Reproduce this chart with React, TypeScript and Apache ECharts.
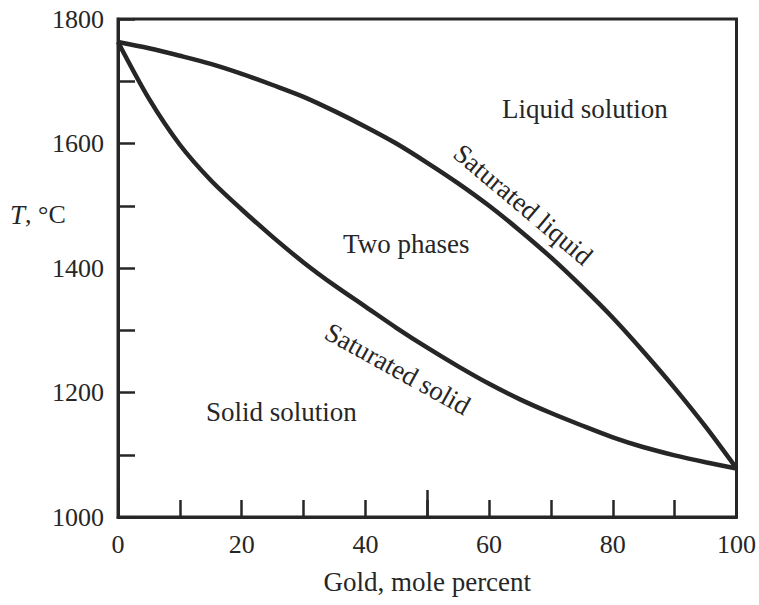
import React, { useEffect, useRef } from "react";
import * as echarts from "echarts";

// Composition (gold, mole percent)
const goldPct = [0, 5, 10, 15, 20, 25, 30, 35, 40, 45, 50, 55, 60, 65, 70, 75, 80, 85, 90, 95, 100];
// Saturated liquid temperature, °C
const liquidT = [1763, 1753, 1741, 1728, 1712, 1694, 1675, 1652, 1627, 1600, 1569, 1536, 1500, 1460, 1417, 1370, 1320, 1265, 1207, 1145, 1078];
// Saturated solid temperature, °C
const solidT = [1763, 1672, 1598, 1541, 1494, 1450, 1409, 1372, 1338, 1304, 1272, 1242, 1214, 1189, 1167, 1147, 1128, 1112, 1099, 1088, 1078];

const yTicks = [1000, 1200, 1400, 1600, 1800];
const xTicks = [0, 20, 40, 60, 80, 100];

// Region / curve annotations, in data coordinates [gold %, T °C, rotation deg]
const annotations: { text: string; x: number; y: number; rot: number }[] = [
  { text: "Liquid solution", x: 75.5, y: 1655, rot: 0 },
  { text: "Saturated liquid", x: 65.5, y: 1502, rot: -40 },
  { text: "Two phases", x: 46.6, y: 1439, rot: 0 },
  { text: "Saturated solid", x: 45.2, y: 1238, rot: -29 },
  { text: "Solid solution", x: 26.4, y: 1169, rot: 0 },
];

const INK = "#262626";
const FONT = "'Liberation Serif', 'DejaVu Serif', serif";

export default function App() {
  const ref = useRef<HTMLDivElement>(null);
  useEffect(() => {
    if (!ref.current) return;
    const chart = echarts.init(ref.current, undefined, { renderer: "svg" });
    const zip = (xs: number[], ys: number[]) => xs.map((x, i) => [x, ys[i]]);
    chart.setOption({
      animation: false,
      backgroundColor: "#ffffff",
      grid: {
        left: 118,
        right: 20,
        top: 19,
        bottom: 88,
        show: true,
        borderColor: INK,
        borderWidth: 3,
      },
      xAxis: [
        {
          type: "value",
          min: 0,
          max: 100,
          interval: 10,
          position: "bottom",
          name: "Gold, mole percent",
          nameLocation: "middle",
          nameGap: 51,
          nameTextStyle: { fontFamily: FONT, fontSize: 27, color: INK },
          axisLine: { show: true, lineStyle: { color: INK, width: 3 } },
          axisTick: { show: true, inside: true, length: 17, lineStyle: { color: INK, width: 2.5 } },
          axisLabel: {
            margin: 14,
            fontFamily: FONT,
            fontSize: 26,
            color: INK,
            formatter: (v: number) => (xTicks.includes(v) ? String(v) : ""),
          },
          splitLine: { show: false },
        },
        {
          type: "value",
          min: 0,
          max: 100,
          interval: 50,
          position: "bottom",
          axisLine: { show: false },
          axisTick: { show: true, inside: true, length: 27, lineStyle: { color: INK, width: 2.5 } },
          axisLabel: { show: false },
          splitLine: { show: false },
        },
      ],
      yAxis: {
        type: "value",
        min: 1000,
        max: 1800,
        interval: 100,
        axisLine: { show: true, lineStyle: { color: INK, width: 3 } },
        axisTick: { show: true, inside: true, length: 17, lineStyle: { color: INK, width: 2.5 } },
        axisLabel: {
          margin: 14,
          fontFamily: FONT,
          fontSize: 26,
          color: INK,
          formatter: (v: number) => (yTicks.includes(v) ? String(v) : ""),
        },
        splitLine: { show: false },
      },
      series: [
        {
          name: "Saturated liquid",
          type: "line",
          data: zip(goldPct, liquidT),
          smooth: 0.3,
          showSymbol: false,
          lineStyle: { color: INK, width: 4.5 },
        },
        {
          name: "Saturated solid",
          type: "line",
          data: zip(goldPct, solidT),
          smooth: 0.3,
          showSymbol: false,
          lineStyle: { color: INK, width: 4.5 },
        },
      ],
    });

    const graphics: any[] = annotations.map((a) => {
      const [px, py] = chart.convertToPixel({ gridIndex: 0 }, [a.x, a.y]) as number[];
      return {
        type: "text",
        x: px,
        y: py,
        rotation: (a.rot * Math.PI) / 180,
        style: {
          text: a.text,
          fontFamily: FONT,
          fontSize: 27,
          fill: INK,
          align: "center",
          verticalAlign: "middle",
        },
      };
    });
    graphics.push({
      type: "text",
      left: 10,
      top: 201,
      style: {
        text: "{i|T}, °C",
        fontFamily: FONT,
        fontSize: 26,
        fill: INK,
        rich: { i: { fontStyle: "italic", fontFamily: FONT, fontSize: 27, fill: INK } },
      },
    });
    chart.setOption({ graphic: graphics });

    return () => chart.dispose();
  }, []);
  return (
    <div
      ref={ref}
      style={{ position: "fixed", left: 0, top: 0, width: 759, height: 605, background: "#fff" }}
    />
  );
}
